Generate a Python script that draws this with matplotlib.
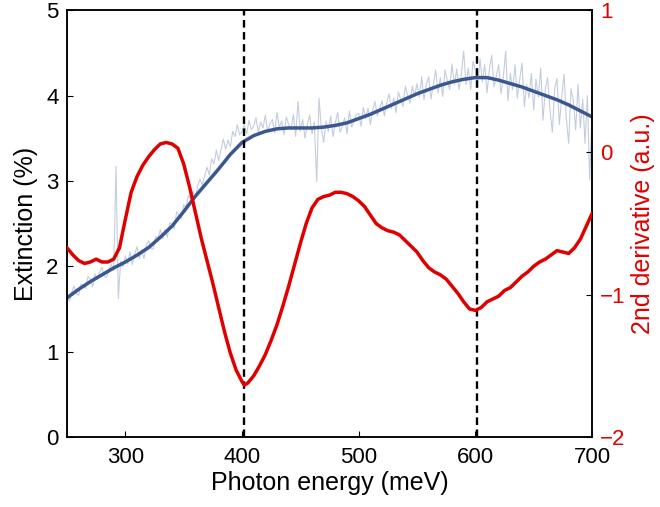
import matplotlib
matplotlib.use("Agg")
import matplotlib.pyplot as plt

plt.rcParams['font.family'] = ['Liberation Sans', 'DejaVu Sans']

# Raw extinction spectrum (every 2 meV, 250..700)
raw_energy = list(range(250, 701, 2))
raw_ext = [
    # 250-298
    1.68, 1.59, 1.69, 1.77, 1.68, 1.66, 1.79, 1.78, 1.74, 1.88,
    1.85, 1.76, 1.91, 1.85, 1.93, 1.99, 1.88, 1.87, 1.97, 2.02,
    1.95, 3.17, 1.62, 2.06, 1.99,
    # 300-348
    2.12, 2.03, 2.17, 2.02, 2.14, 2.23, 2.09, 2.19, 2.09, 2.25,
    2.30, 2.21, 2.20, 2.35, 2.33, 2.43, 2.32, 2.43, 2.34, 2.51,
    2.49, 2.44, 2.64, 2.60, 2.56,
    # 350-398
    2.72, 2.69, 2.83, 2.79, 2.88, 2.80, 2.94, 3.02, 2.95, 3.06,
    3.16, 3.07, 3.26, 3.20, 3.36, 3.24, 3.36, 3.49, 3.37, 3.48,
    3.40, 3.58, 3.52, 3.66, 3.54,
    # 400-448
    3.58, 3.66, 3.55, 3.71, 3.60, 3.64, 3.74, 3.57, 3.69, 3.62,
    3.77, 3.58, 3.67, 3.72, 3.56, 3.80, 3.63, 3.70, 3.54, 3.75,
    3.66, 3.60, 3.78, 3.52, 3.93,
    # 450-498
    3.58, 3.72, 3.50, 3.66, 3.77, 3.55, 3.69, 2.99, 3.97, 3.62,
    3.45, 3.70, 3.58, 3.76, 3.52, 3.68, 3.80, 3.57, 3.64, 3.74,
    3.55, 3.82, 3.63, 3.70, 3.78,
    # 500-548
    3.79, 3.64, 3.86, 3.73, 3.85, 3.66, 3.83, 3.93, 3.76, 3.85,
    3.94, 3.76, 3.91, 4.02, 3.85, 3.97, 3.80, 4.04, 3.95, 3.87,
    4.11, 4.00, 3.91, 4.11, 3.99,
    # 550-598
    4.14, 3.98, 4.22, 3.95, 4.13, 4.22, 3.96, 4.13, 4.30, 4.03,
    4.21, 3.99, 4.30, 4.17, 4.07, 4.37, 4.13, 4.31, 4.07, 4.25,
    4.52, 4.13, 4.32, 4.07, 4.40,
    # 600-648
    4.29, 4.09, 4.43, 4.16, 4.36, 4.03, 4.30, 4.47, 4.10, 4.23,
    4.36, 4.02, 4.22, 4.52, 3.94, 4.26, 4.07, 4.36, 3.97, 4.19,
    4.38, 3.87, 4.13, 3.97, 4.26,
    # 650-700
    3.83, 4.19, 3.98, 4.32, 3.71, 4.08, 4.21, 3.83, 3.57, 4.08,
    4.20, 3.66, 3.98, 4.25, 3.72, 3.44, 4.08, 3.94, 3.60, 4.13,
    3.62, 3.96, 3.44, 4.00, 3.01, 3.80,
]

# Smoothed extinction (every 10 meV)
smooth_energy = list(range(250, 701, 10))
smooth_ext = [
    1.63, 1.73, 1.82, 1.90, 1.98, 2.05, 2.13, 2.22, 2.34, 2.47,
    2.64, 2.82, 2.98, 3.14, 3.31, 3.45, 3.53, 3.58, 3.61, 3.62,
    3.62, 3.62, 3.63, 3.65, 3.68, 3.73, 3.78, 3.84, 3.90, 3.96,
    4.02, 4.07, 4.12, 4.16, 4.19, 4.21, 4.21, 4.18, 4.14, 4.10,
    4.05, 4.00, 3.95, 3.89, 3.82, 3.75,
]

# Second derivative
deriv_energy = list(range(250, 401, 5)) + [402] + list(range(405, 701, 5))
deriv_vals = [
    # 250-295
    -0.67, -0.72, -0.76, -0.78, -0.77, -0.75, -0.77, -0.77, -0.75, -0.67,
    # 300-345
    -0.47, -0.28, -0.17, -0.09, -0.03, 0.02, 0.06, 0.07, 0.06, 0.03,
    # 350-395
    -0.08, -0.24, -0.42, -0.60, -0.76, -0.92, -1.09, -1.26, -1.41, -1.53,
    # 400, 402
    -1.61, -1.635,
    # 405-440
    -1.62, -1.57, -1.50, -1.42, -1.32, -1.21, -1.08, -0.94,
    # 445-490
    -0.79, -0.64, -0.50, -0.39, -0.33, -0.31, -0.30, -0.28, -0.28, -0.29,
    # 495-540
    -0.31, -0.34, -0.38, -0.44, -0.50, -0.53, -0.55, -0.56, -0.58, -0.62,
    # 545-590
    -0.66, -0.70, -0.76, -0.81, -0.84, -0.86, -0.89, -0.94, -0.99, -1.05,
    # 595-640
    -1.10, -1.11, -1.09, -1.05, -1.03, -1.01, -0.97, -0.95, -0.91, -0.87,
    # 645-690
    -0.84, -0.80, -0.77, -0.75, -0.72, -0.69, -0.70, -0.71, -0.67, -0.61,
    # 695-700
    -0.52, -0.43,
]

peak_positions = [402, 601]

fig = plt.figure(figsize=(6.6, 5.07), dpi=100)
ax = fig.add_axes([0.1015, 0.138, 0.7955, 0.842])
ax2 = ax.twinx()

ax.plot(raw_energy, raw_ext, color='#c3cde0', lw=0.8, zorder=1)
ax.plot(smooth_energy, smooth_ext, color='#3b5791', lw=2.5, zorder=2)
for p in peak_positions:
    ax.axvline(p, color='black', lw=1.7, ls=(0, (3.2, 1.9)), zorder=3)

ax2.plot(deriv_energy, deriv_vals, color='#e00000', lw=2.5, zorder=4)

ax.set_xlim(250, 700)
ax.set_ylim(0, 5)
ax2.set_ylim(-2, 1)
ax.set_xticks([300, 400, 500, 600, 700])
ax.set_yticks([0, 1, 2, 3, 4, 5])
ax2.set_yticks([-2, -1, 0, 1])
ax2.set_yticklabels(['\u22122', '\u22121', '0', '1'])

ax.tick_params(axis='both', direction='in', length=4, width=0.8, labelsize=16, pad=6)
ax.tick_params(axis='x', pad=7)
ax2.tick_params(axis='y', direction='in', length=4, width=0.8, labelsize=16, labelcolor='#e00000', pad=6)

for a in (ax, ax2):
    for s in a.spines.values():
        s.set_linewidth(1.1)

ax.set_xlabel('Photon energy (meV)', fontsize=18, labelpad=2)
ax.set_ylabel('Extinction (%)', fontsize=18, labelpad=6)
ax2.set_ylabel('2nd derivative (a.u.)', fontsize=18, color='#e00000', labelpad=4)

fig.savefig('out.png', dpi=100)
